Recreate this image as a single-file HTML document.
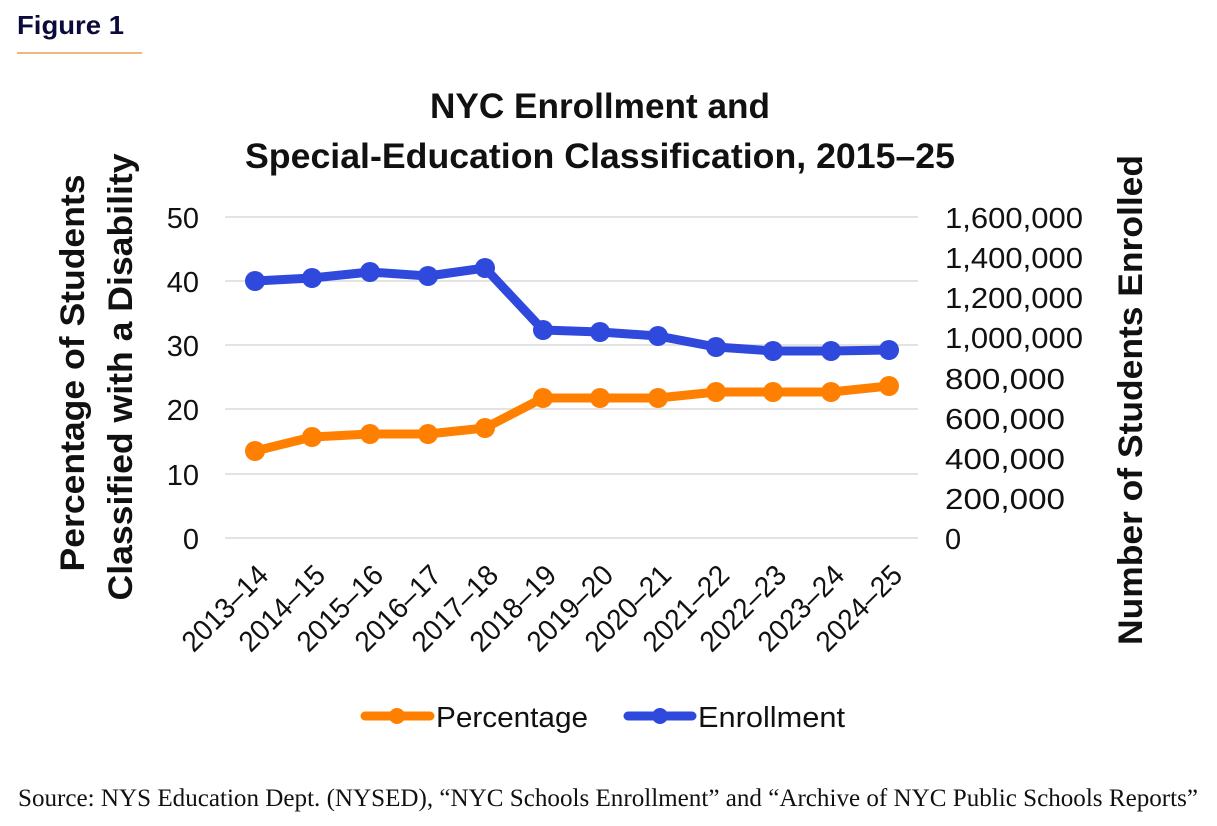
<!DOCTYPE html>
<html><head><meta charset="utf-8"><style>
body{margin:0;background:#fff;width:1217px;height:826px;overflow:hidden}
svg{display:block}
</style></head><body>
<svg width="1217" height="826" xmlns="http://www.w3.org/2000/svg" font-family="Liberation Sans, sans-serif">
<text x="17" y="34" font-size="26" font-weight="bold" fill="#0b0b3b" textLength="107" lengthAdjust="spacingAndGlyphs">Figure 1</text>
<line x1="17" y1="53" x2="142" y2="53" stroke="#e8a050" stroke-width="1.5"/>
<text x="600" y="118" font-size="35" font-weight="bold" text-anchor="middle" fill="#111" textLength="340" lengthAdjust="spacingAndGlyphs">NYC Enrollment and</text>
<text x="600" y="168" font-size="35" font-weight="bold" text-anchor="middle" fill="#111" textLength="710" lengthAdjust="spacingAndGlyphs">Special-Education Classification, 2015–25</text>
<g stroke="#e3e3e3" stroke-width="2">
<line x1="225" y1="217" x2="918" y2="217"/><line x1="225" y1="281" x2="918" y2="281"/>
<line x1="225" y1="345" x2="918" y2="345"/><line x1="225" y1="409" x2="918" y2="409"/>
<line x1="225" y1="474" x2="918" y2="474"/><line x1="225" y1="538" x2="918" y2="538"/>
</g>
<g font-size="29" fill="#111" text-anchor="end">
<text x="199" y="228">50</text><text x="199" y="292">40</text><text x="199" y="356">30</text>
<text x="199" y="420">20</text><text x="199" y="485">10</text><text x="199" y="549">0</text>
</g>
<g font-size="29" fill="#111" lengthAdjust="spacingAndGlyphs">
<text x="945" y="228" textLength="138" lengthAdjust="spacingAndGlyphs">1,600,000</text><text x="945" y="268" textLength="138" lengthAdjust="spacingAndGlyphs">1,400,000</text><text x="945" y="308" textLength="138" lengthAdjust="spacingAndGlyphs">1,200,000</text>
<text x="945" y="348" textLength="138" lengthAdjust="spacingAndGlyphs">1,000,000</text><text x="945" y="389" textLength="120" lengthAdjust="spacingAndGlyphs">800,000</text><text x="945" y="429" textLength="120" lengthAdjust="spacingAndGlyphs">600,000</text>
<text x="945" y="469" textLength="120" lengthAdjust="spacingAndGlyphs">400,000</text><text x="945" y="509" textLength="120" lengthAdjust="spacingAndGlyphs">200,000</text><text x="945" y="549">0</text>
</g>
<g font-size="34" font-weight="bold" fill="#111" text-anchor="middle">
<text transform="translate(84,373) rotate(-90)" textLength="397" lengthAdjust="spacingAndGlyphs">Percentage of Students</text>
<text transform="translate(132,377) rotate(-90)" textLength="447" lengthAdjust="spacingAndGlyphs">Classified with a Disability</text>
<text transform="translate(1142,400) rotate(-90)" textLength="490" lengthAdjust="spacingAndGlyphs">Number of Students Enrolled</text>
</g>
<polyline fill="none" stroke="#2e49db" stroke-width="9" stroke-linejoin="round" points="255,281 312,278 370,272 428,276 485,268 543,330 600,332 658,336 716,347 773,351 831,351 889,350"/>
<g fill="#2e49db">
<circle cx="255" cy="281" r="10"/><circle cx="312" cy="278" r="10"/><circle cx="370" cy="272" r="10"/><circle cx="428" cy="276" r="10"/><circle cx="485" cy="268" r="10"/><circle cx="543" cy="330" r="10"/><circle cx="600" cy="332" r="10"/><circle cx="658" cy="336" r="10"/><circle cx="716" cy="347" r="10"/><circle cx="773" cy="351" r="10"/><circle cx="831" cy="351" r="10"/><circle cx="889" cy="350" r="10"/>
</g>
<polyline fill="none" stroke="#ff8000" stroke-width="9" stroke-linejoin="round" points="255,451 312,437 370,434 428,434 485,428 543,398 600,398 658,398 716,392 773,392 831,392 889,386"/>
<g fill="#ff8000">
<circle cx="255" cy="451" r="10"/><circle cx="312" cy="437" r="10"/><circle cx="370" cy="434" r="10"/><circle cx="428" cy="434" r="10"/><circle cx="485" cy="428" r="10"/><circle cx="543" cy="398" r="10"/><circle cx="600" cy="398" r="10"/><circle cx="658" cy="398" r="10"/><circle cx="716" cy="392" r="10"/><circle cx="773" cy="392" r="10"/><circle cx="831" cy="392" r="10"/><circle cx="889" cy="386" r="10"/>
</g>
<g font-size="29" fill="#111" text-anchor="end">
<text transform="translate(270,577) rotate(-45)" textLength="108" lengthAdjust="spacingAndGlyphs">2013–14</text>
<text transform="translate(327,577) rotate(-45)" textLength="108" lengthAdjust="spacingAndGlyphs">2014–15</text>
<text transform="translate(385,577) rotate(-45)" textLength="108" lengthAdjust="spacingAndGlyphs">2015–16</text>
<text transform="translate(443,577) rotate(-45)" textLength="108" lengthAdjust="spacingAndGlyphs">2016–17</text>
<text transform="translate(500,577) rotate(-45)" textLength="108" lengthAdjust="spacingAndGlyphs">2017–18</text>
<text transform="translate(558,577) rotate(-45)" textLength="108" lengthAdjust="spacingAndGlyphs">2018–19</text>
<text transform="translate(615,577) rotate(-45)" textLength="108" lengthAdjust="spacingAndGlyphs">2019–20</text>
<text transform="translate(673,577) rotate(-45)" textLength="108" lengthAdjust="spacingAndGlyphs">2020–21</text>
<text transform="translate(731,577) rotate(-45)" textLength="108" lengthAdjust="spacingAndGlyphs">2021–22</text>
<text transform="translate(788,577) rotate(-45)" textLength="108" lengthAdjust="spacingAndGlyphs">2022–23</text>
<text transform="translate(846,577) rotate(-45)" textLength="108" lengthAdjust="spacingAndGlyphs">2023–24</text>
<text transform="translate(904,577) rotate(-45)" textLength="108" lengthAdjust="spacingAndGlyphs">2024–25</text>
</g>
<line x1="365" y1="716" x2="430" y2="716" stroke="#ff8000" stroke-width="9" stroke-linecap="round"/>
<circle cx="397" cy="716" r="8" fill="#ff8000"/>
<text x="436" y="727" font-size="29" fill="#111" textLength="152" lengthAdjust="spacingAndGlyphs">Percentage</text>
<line x1="628" y1="716" x2="692" y2="716" stroke="#2e49db" stroke-width="9" stroke-linecap="round"/>
<circle cx="660" cy="716" r="8" fill="#2e49db"/>
<text x="698" y="727" font-size="29" fill="#111" textLength="147" lengthAdjust="spacingAndGlyphs">Enrollment</text>
<text x="18" y="806" font-size="25" font-family="Liberation Serif, serif" fill="#111" textLength="1180" lengthAdjust="spacingAndGlyphs">Source: NYS Education Dept. (NYSED), “NYC Schools Enrollment” and “Archive of NYC Public Schools Reports”</text>
</svg>
</body></html>
